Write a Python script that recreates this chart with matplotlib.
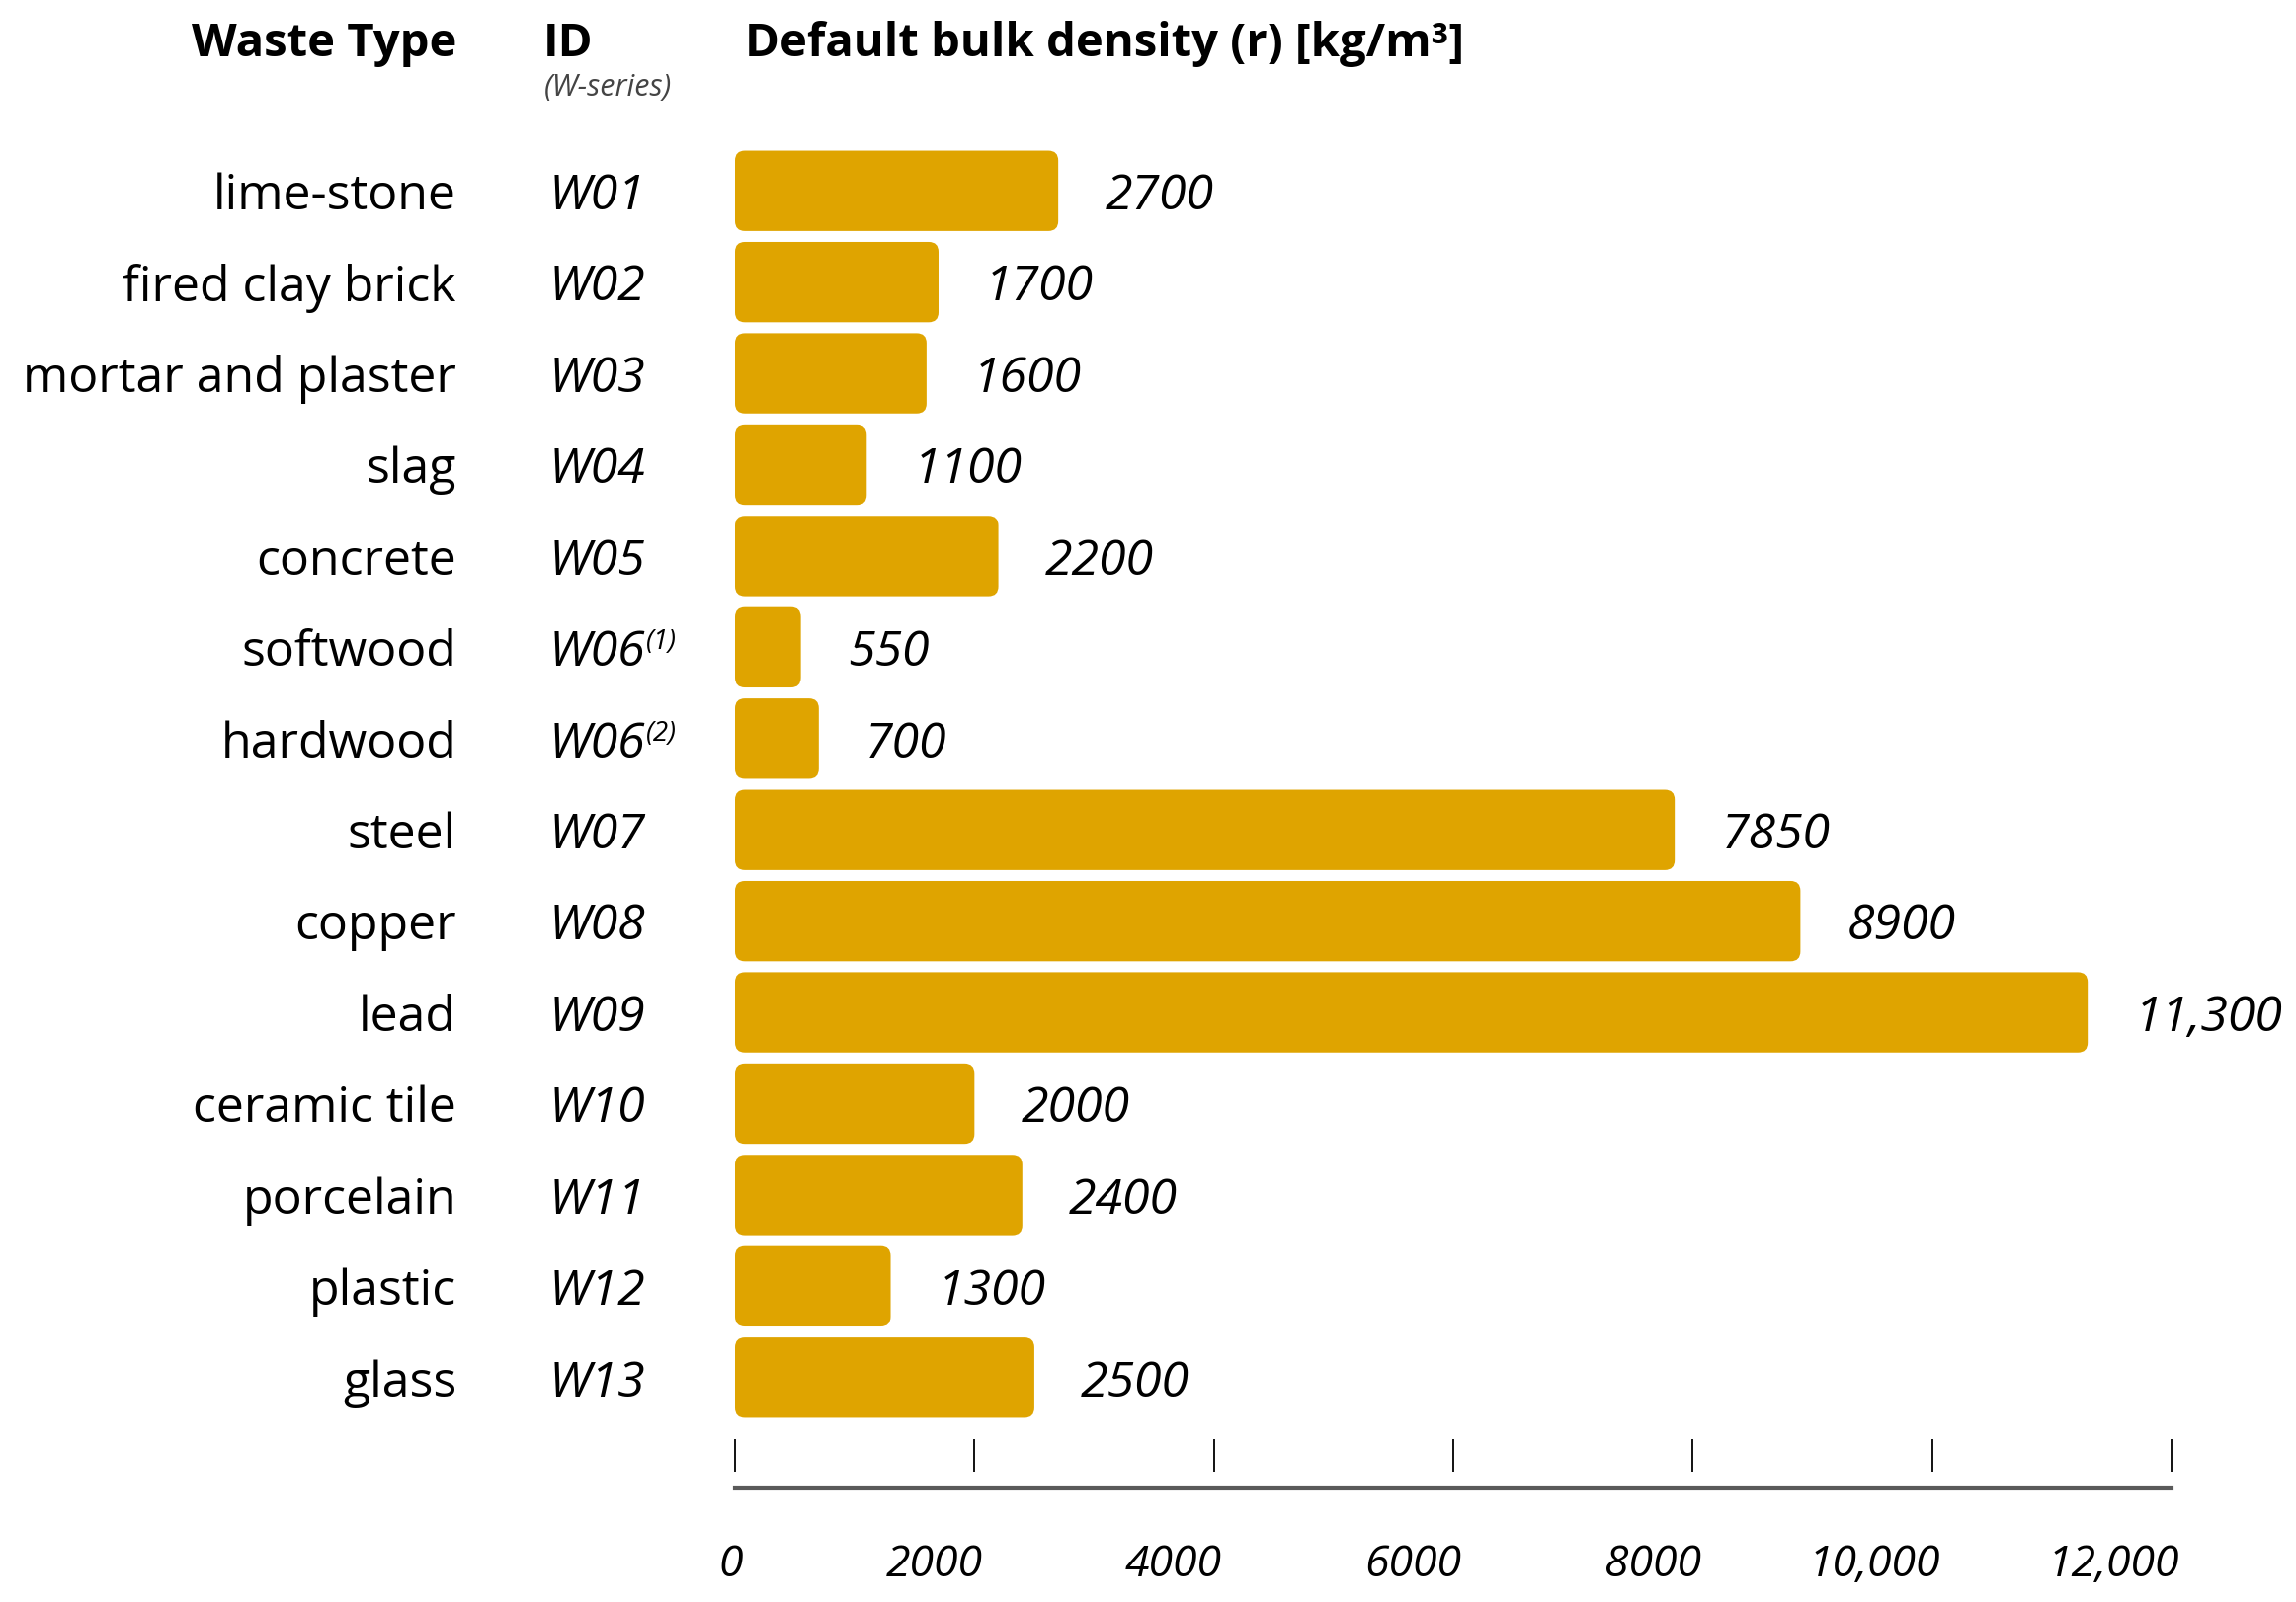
import matplotlib.pyplot as plt
import matplotlib.transforms as mtransforms
from matplotlib.patches import FancyBboxPatch

waste_types = ['lime-stone', 'fired clay brick', 'mortar and plaster', 'slag', 'concrete',
               'softwood', 'hardwood', 'steel', 'copper', 'lead', 'ceramic tile',
               'porcelain', 'plastic', 'glass']
ids = ['W01', 'W02', 'W03', 'W04', 'W05', 'W06', 'W06', 'W07', 'W08', 'W09', 'W10',
       'W11', 'W12', 'W13']
id_notes = ['', '', '', '', '', '(1)', '(2)', '', '', '', '', '', '', '']
density = [2700, 1700, 1600, 1100, 2200, 550, 700, 7850, 8900, 11300, 2000, 2400, 1300, 2500]
value_labels = ['2700', '1700', '1600', '1100', '2200', '550', '700', '7850', '8900',
                '11,300', '2000', '2400', '1300', '2500']
ticks = [0, 2000, 4000, 6000, 8000, 10000, 12000]
tick_labels = ['0', '2000', '4000', '6000', '8000', '10,000', '12,000']

plt.rcParams['font.family'] = ['Open Sans', 'DejaVu Sans']

W, H = 2324, 1622
fig = plt.figure(figsize=(W / 100, H / 100), dpi=100)

# bars area, pixel layout
ax_l, ax_w = 744, 1454
ax_top, ax_bot = 147, 1441
ax = fig.add_axes([ax_l / W, 1 - ax_bot / H, ax_w / W, (ax_bot - ax_top) / H])
ax.set_xlim(0, 12000)
ax.set_ylim(len(density) - 0.5, -0.5)
ax.axis('off')

bar_color = '#DFA400'
bars = ax.barh(range(len(density)), density, height=0.88, color=bar_color)

# swap plain bars for rounded ones
px_x = 12000 / ax_w
px_y = len(density) / (ax_bot - ax_top)
r = 10
for b in bars:
    b.set_visible(False)
    ax.add_patch(FancyBboxPatch((b.get_x(), b.get_y()), b.get_width(), b.get_height(),
                                boxstyle='round,pad=0,rounding_size=%f' % (r * px_x),
                                mutation_aspect=px_y / px_x, fc=bar_color, ec='none'))

for b, lab in zip(bars, value_labels):
    ax.annotate(lab, xy=(b.get_width(), b.get_y() + b.get_height() / 2),
                xytext=(34, 0), textcoords='offset points', ha='left',
                va='center_baseline', fontsize=36, style='italic')

tr = mtransforms.blended_transform_factory(fig.transFigure, ax.transData)
for i, (name, wid, note) in enumerate(zip(waste_types, ids, id_notes)):
    ax.text(462 / W, i, name, transform=tr, ha='right', va='center_baseline', fontsize=36)
    t = ax.text(556 / W, i, wid, transform=tr, ha='left', va='center_baseline',
                fontsize=36, style='italic')
    if note:
        ax.annotate(note, xy=(1, 0.72), xycoords=t, ha='left', va='center',
                    fontsize=20, style='italic')

# headers
fig.text(462 / W, 1 - 57 / H, 'Waste Type', ha='right', va='baseline', fontsize=34, weight='bold')
fig.text(550 / W, 1 - 57 / H, 'ID', ha='left', va='baseline', fontsize=34, weight='bold')
fig.text(754 / W, 1 - 57 / H, 'Default bulk density (r) [kg/m\u00b3]', ha='left',
         va='baseline', fontsize=34, weight='bold')
fig.text(551 / W, 1 - 97 / H, '(W-series)', ha='left', va='baseline', fontsize=22,
         style='italic', color='#444444')

# scale at the bottom
sx = fig.add_axes([ax_l / W, 1 - 1507 / H, ax_w / W, 50 / H])
sx.set_xlim(0, 12000)
sx.set_ylim(0, 50)
sx.patch.set_visible(False)
for s in ['top', 'left', 'right']:
    sx.spines[s].set_visible(False)
sx.spines['bottom'].set_color('#5a5a5a')
sx.spines['bottom'].set_linewidth(3)
sx.set_yticks([])
sx.vlines(ticks, 17, 50, color='black', lw=1.3, clip_on=False)
sx.set_xticks(ticks, tick_labels, fontsize=32, style='italic')
sx.tick_params(axis='x', length=0, pad=40)
off = mtransforms.ScaledTranslation(6 / 72, 0, fig.dpi_scale_trans)
for lbl in sx.get_xticklabels():
    lbl.set_ha('right')
    lbl.set_transform(lbl.get_transform() + off)

fig.savefig('out.png', dpi=100)
